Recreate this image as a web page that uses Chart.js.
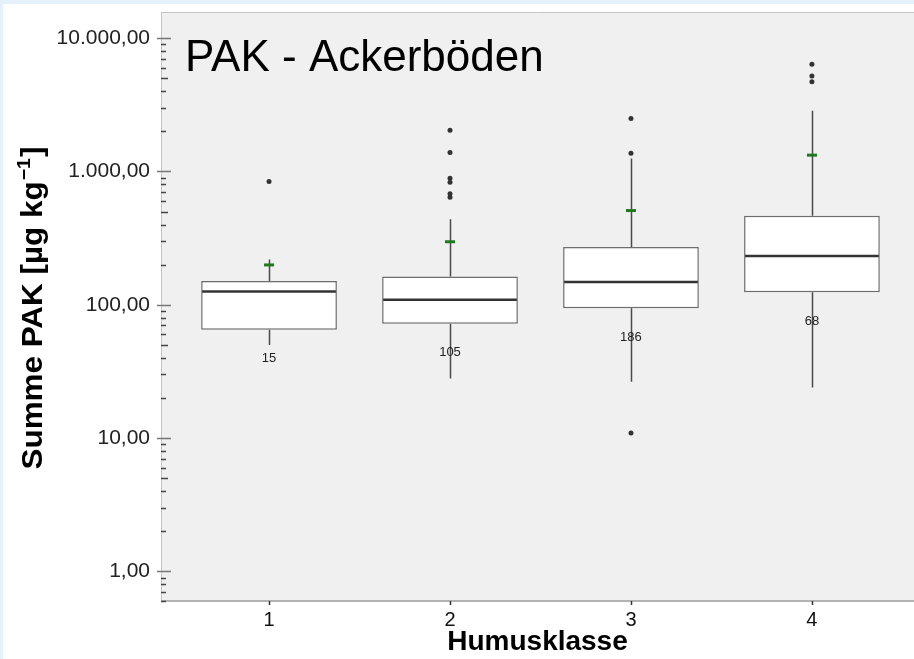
<!DOCTYPE html>
<html>
<head>
<meta charset="utf-8">
<script src="https://cdn.jsdelivr.net/npm/chart.js@4.4.1/dist/chart.umd.min.js"></script>
<style>
html, body { margin: 0; padding: 0; background: #fff; }
#wrap { width: 914px; height: 659px; }
</style>
</head>
<body>
<div id="wrap"><canvas id="pakChart" width="914" height="659"></canvas></div>
<script>
// Humusklasse 1-4, Summe PAK in µg/kg
const humusklassen = [1, 2, 3, 4];
const klassenLabels = ['1', '2', '3', '4'];
const q1Values = [65, 72, 94, 124];
const medianValues = [126, 109, 148, 232];
const q3Values = [151, 163, 271, 465];
const whiskerLow = [50, 28, 26.5, 24];
const whiskerHigh = [219, 438, 1250, 2850];
const meanValues = [199, 297, 509, 1325];
const caseCounts = [15, 105, 186, 68];
const outlierValues = [
    [842],
    [2040, 1390, 890, 830, 680, 640],
    [2500, 1370, 10.9],
    [6370, 5200, 4700]
];
const yTickValues = [1, 10, 100, 1000, 10000];
const yTickLabels = ['1,00', '10,00', '100,00', '1.000,00', '10.000,00'];

const FONT = 'Arial, "Liberation Sans", sans-serif';

const colors = {
    frame: '#e4f1fb',
    paper: '#ffffff',
    plot: '#f0f0f0',
    boxEdge: '#6e6e6e',
    median: '#333333',
    whisker: '#4a4a4a',
    outlier: '#333333',
    mean: '#1f7a1f',
    text: '#111111'
};

const boxData = humusklassen.map((k, i) => ({ x: k, y: [q1Values[i], q3Values[i]] }));
const meanData = humusklassen.map((k, i) => ({ x: k, y: meanValues[i] }));
const outlierData = humusklassen.flatMap((k, i) => outlierValues[i].map(v => ({ x: k, y: v })));

const backgroundPlugin = {
    id: 'spssBackground',
    beforeDraw(chart) {
        const { ctx, chartArea: a, width, height } = chart;
        ctx.save();
        ctx.fillStyle = colors.frame;
        ctx.fillRect(0, 0, width, height);
        ctx.fillStyle = colors.paper;
        ctx.fillRect(3, 4, width - 3, height - 4);
        ctx.fillStyle = colors.plot;
        ctx.fillRect(a.left, a.top, a.right - a.left, a.bottom - a.top);
        // frame lines
        ctx.strokeStyle = '#c4c4c4';
        ctx.lineWidth = 1;
        ctx.beginPath();
        ctx.moveTo(a.left, a.top + 0.5);
        ctx.lineTo(a.right, a.top + 0.5);
        ctx.moveTo(a.left + 0.5, a.top);
        ctx.lineTo(a.left + 0.5, a.bottom);
        ctx.stroke();
        ctx.restore();
    }
};

const boxPlugin = {
    id: 'boxParts',
    beforeDatasetsDraw(chart) {
        const { ctx, scales: { x, y } } = chart;
        ctx.save();
        ctx.strokeStyle = colors.whisker;
        ctx.lineWidth = 1.5;
        humusklassen.forEach((k, i) => {
            const px = Math.round(x.getPixelForValue(k)) + 0.5;
            ctx.beginPath();
            ctx.moveTo(px, y.getPixelForValue(q3Values[i]));
            ctx.lineTo(px, y.getPixelForValue(whiskerHigh[i]));
            ctx.moveTo(px, y.getPixelForValue(q1Values[i]));
            ctx.lineTo(px, y.getPixelForValue(whiskerLow[i]));
            ctx.stroke();
        });
        ctx.restore();
    },
    afterDatasetsDraw(chart) {
        const { ctx, scales: { x, y } } = chart;
        const meta = chart.getDatasetMeta(2);
        ctx.save();
        ctx.strokeStyle = colors.median;
        ctx.lineWidth = 2.5;
        meta.data.forEach((bar, i) => {
            const half = bar.width / 2 - 1;
            const py = y.getPixelForValue(medianValues[i]);
            ctx.beginPath();
            ctx.moveTo(bar.x - half, py);
            ctx.lineTo(bar.x + half, py);
            ctx.stroke();
        });
        // case counts under the boxes
        ctx.fillStyle = '#222';
        ctx.font = '13px ' + FONT;
        ctx.textAlign = 'center';
        ctx.textBaseline = 'middle';
        humusklassen.forEach((k, i) => {
            ctx.fillText(String(caseCounts[i]), x.getPixelForValue(k), y.getPixelForValue(q1Values[i]) + 29);
        });
        ctx.restore();
    }
};

const axisPlugin = {
    id: 'spssAxes',
    afterDraw(chart) {
        const { ctx, chartArea: a, scales: { x, y } } = chart;
        ctx.save();
        // bottom axis line
        ctx.strokeStyle = '#9c9c9c';
        ctx.lineWidth = 1.5;
        ctx.beginPath();
        ctx.moveTo(a.left, a.bottom);
        ctx.lineTo(a.right, a.bottom);
        ctx.stroke();

        // y tick marks
        y.ticks.forEach(t => {
            const py = Math.round(y.getPixelForValue(t.value)) + 0.5;
            const exp = Math.floor(Math.log10(t.value) + 1e-9);
            const mant = Math.round(t.value / Math.pow(10, exp));
            ctx.beginPath();
            if (yTickValues.includes(t.value)) {
                ctx.strokeStyle = '#777';
                ctx.lineWidth = 1.5;
                ctx.moveTo(a.left - 4, py);
                ctx.lineTo(a.left + 10, py);
            } else if (mant === 5) {
                ctx.strokeStyle = '#444';
                ctx.lineWidth = 1.5;
                ctx.moveTo(a.left, py);
                ctx.lineTo(a.left + 7, py);
            } else {
                ctx.strokeStyle = '#444';
                ctx.lineWidth = 1.5;
                ctx.moveTo(a.left, py);
                ctx.lineTo(a.left + 5, py);
            }
            ctx.stroke();
        });

        // x tick marks
        ctx.strokeStyle = '#333';
        ctx.lineWidth = 1.5;
        humusklassen.forEach(k => {
            const px = Math.round(x.getPixelForValue(k)) + 0.5;
            ctx.beginPath();
            ctx.moveTo(px, a.bottom);
            ctx.lineTo(px, a.bottom + 4);
            ctx.stroke();
        });

        // chart title inside the plot
        ctx.fillStyle = '#000';
        ctx.font = '44px ' + FONT;
        ctx.textAlign = 'left';
        ctx.textBaseline = 'alphabetic';
        ctx.fillText('PAK - Ackerböden', 185, 71);

        // y axis title with superscript
        ctx.translate(41.5, 308);
        ctx.rotate(-Math.PI / 2);
        const mainFont = 'bold 29px ' + FONT;
        const supFont = 'bold 18px ' + FONT;
        const partA = 'Summe PAK [µg kg', partB = '\u22121', partC = ']';
        ctx.font = mainFont;
        const wA = ctx.measureText(partA).width;
        const wC = ctx.measureText(partC).width;
        ctx.font = supFont;
        const wB = ctx.measureText(partB).width;
        const total = wA + wB + wC + 2;
        const stretch = 323 / total;
        ctx.scale(stretch, 1);
        let cx = -total / 2;
        ctx.fillStyle = '#000';
        ctx.font = mainFont;
        ctx.fillText(partA, cx, 0);
        cx += wA + 1;
        ctx.font = supFont;
        ctx.fillText(partB, cx, -12);
        cx += wB + 1;
        ctx.font = mainFont;
        ctx.fillText(partC, cx, 0);
        ctx.restore();
    }
};

const ctx = document.getElementById('pakChart');
new Chart(ctx, {
    type: 'bar',
    data: {
        datasets: [
            {
                type: 'scatter',
                label: 'Mittelwert',
                data: meanData,
                pointStyle: 'line',
                pointRadius: 5,
                pointBorderWidth: 3,
                borderColor: colors.mean,
                backgroundColor: colors.mean
            },
            {
                type: 'scatter',
                label: 'Ausreißer',
                data: outlierData,
                pointRadius: 2.5,
                pointBorderWidth: 0,
                backgroundColor: colors.outlier,
                borderColor: colors.outlier
            },
            {
                type: 'bar',
                label: 'Box',
                data: boxData,
                backgroundColor: '#ffffff',
                borderColor: colors.boxEdge,
                borderWidth: 1.5,
                borderSkipped: false,
                categoryPercentage: 1,
                barPercentage: 0.75
            }
        ]
    },
    options: {
        responsive: false,
        animation: false,
        events: [],
        layout: { autoPadding: false, padding: 0 },
        plugins: {
            legend: { display: false },
            tooltip: { enabled: false }
        },
        scales: {
            x: {
                type: 'linear',
                offset: false,
                min: 0.403,
                max: 4.564,
                afterBuildTicks: scale => {
                    scale.ticks = humusklassen.map(v => ({ value: v }));
                },
                afterFit: scale => {
                    scale.height = 58;
                    scale.paddingLeft = 0;
                    scale.paddingRight = 0;
                },
                grid: { display: false, drawTicks: false, offset: false },
                border: { display: false },
                ticks: {
                    padding: 7,
                    color: colors.text,
                    font: { family: FONT, size: 20 },
                    callback: v => {
                        const i = humusklassen.indexOf(v);
                        return i >= 0 ? klassenLabels[i] : '';
                    }
                },
                title: {
                    display: true,
                    text: 'Humusklasse',
                    color: '#000',
                    font: { family: FONT, size: 28, weight: 'bold', lineHeight: 1 },
                    padding: { top: 0, bottom: 2.5 }
                }
            },
            y: {
                type: 'logarithmic',
                min: 0.64,
                max: 15700,
                afterBuildTicks: scale => {
                    const list = [];
                    for (let e = -1; e <= 4; e++) {
                        for (let m = 1; m <= 9; m++) {
                            const v = +(m * Math.pow(10, e)).toPrecision(3);
                            if (v >= scale.min && v <= scale.max) list.push({ value: v });
                        }
                    }
                    scale.ticks = list;
                },
                afterFit: scale => {
                    scale.width = 161;
                    scale.paddingTop = 12;
                    scale.paddingBottom = 0;
                },
                grid: { display: false, drawTicks: false },
                border: { display: false },
                ticks: {
                    autoSkip: false,
                    padding: 11,
                    color: '#222',
                    font: { family: FONT, size: 21 },
                    callback: v => {
                        const i = yTickValues.indexOf(v);
                        return i >= 0 ? yTickLabels[i] : '';
                    }
                }
            }
        }
    },
    plugins: [backgroundPlugin, boxPlugin, axisPlugin]
});
</script>
</body>
</html>
